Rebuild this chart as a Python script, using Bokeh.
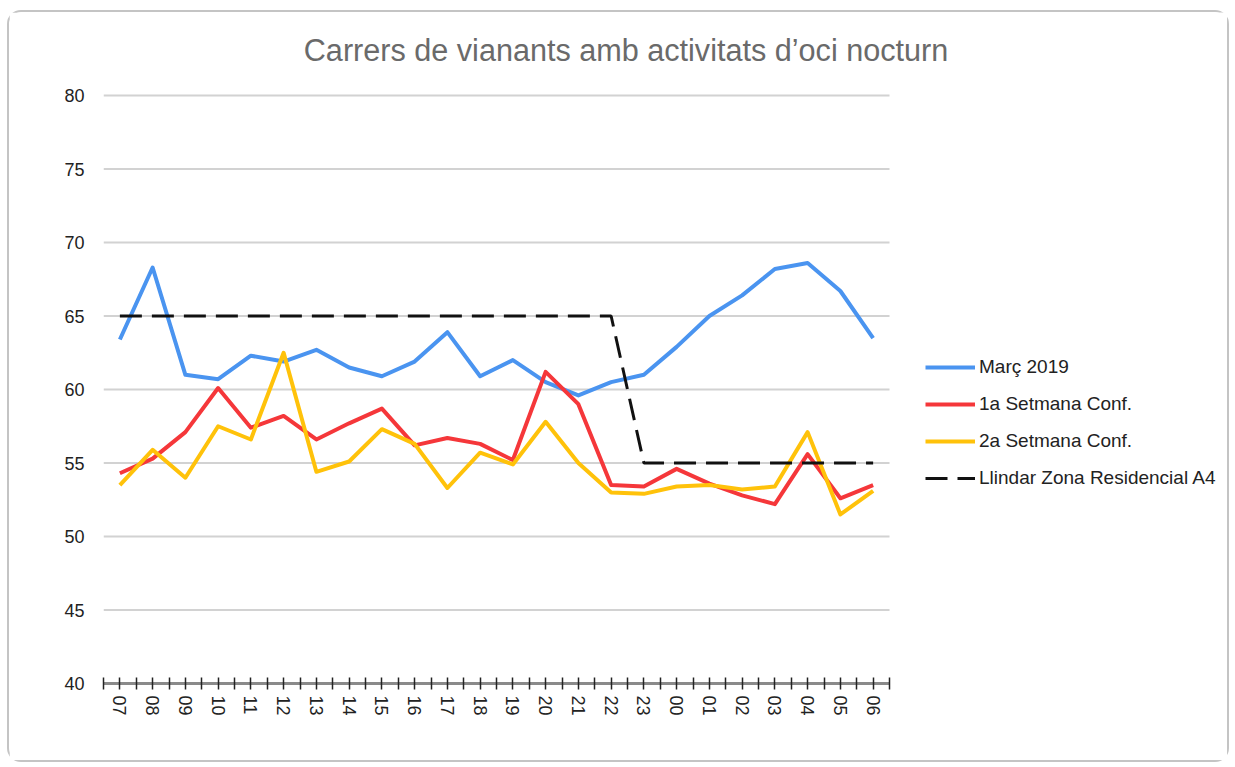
from bokeh.plotting import figure
from bokeh.models import Range1d, FixedTicker, Legend, LegendItem, Label
from bokeh.embed import file_html
from bokeh.resources import INLINE

hours = ["07", "08", "09", "10", "11", "12", "13", "14", "15", "16", "17", "18",
         "19", "20", "21", "22", "23", "00", "01", "02", "03", "04", "05", "06"]
marc_2019 = [63.4, 68.3, 61.0, 60.7, 62.3, 61.9, 62.7, 61.5, 60.9, 61.9, 63.9, 60.9,
             62.0, 60.5, 59.6, 60.5, 61.0, 62.9, 65.0, 66.4, 68.2, 68.6, 66.7, 63.5]
setmana_1 = [54.3, 55.3, 57.1, 60.1, 57.4, 58.2, 56.6, 57.7, 58.7, 56.2, 56.7, 56.3,
             55.2, 61.2, 59.0, 53.5, 53.4, 54.6, 53.6, 52.8, 52.2, 55.6, 52.6, 53.5]
setmana_2 = [53.5, 55.9, 54.0, 57.5, 56.6, 62.5, 54.4, 55.1, 57.3, 56.3, 53.3, 55.7,
             54.9, 57.8, 55.0, 53.0, 52.9, 53.4, 53.5, 53.2, 53.4, 57.1, 51.5, 53.1]
llindar = [65, 65, 65, 65, 65, 65, 65, 65, 65, 65, 65, 65,
           65, 65, 65, 65, 55, 55, 55, 55, 55, 55, 55, 55]
y_ticks = [40, 45, 50, 55, 60, 65, 70, 75, 80]
title_text = "Carrers de vianants amb activitats d\u2019oci nocturn"
series_names = ["Mar\u00e7 2019", "1a Setmana Conf.", "2a Setmana Conf.",
                "Llindar Zona Residencial A4"]

xs = list(range(len(hours)))
FONT = "Liberation Sans"

# The frame fills the canvas right of the y labels and above the x labels;
# the data occupy its lower-left part, title and legend sit in the rest.
W, H = 1222, 752
LEFT, BOTTOM = 94, 81
cat_px = 32.75          # pixels per hour category
unit_px = 14.7          # pixels per dB
x_lo = -0.5
x_hi = x_lo + (W - LEFT) / cat_px
y_lo = 40
y_hi = y_lo + (H - BOTTOM) / unit_px

p = figure(width=W, height=H, output_backend="svg", toolbar_location=None,
           x_range=Range1d(x_lo, x_hi), y_range=Range1d(y_lo, y_hi),
           min_border_left=LEFT, min_border_right=0, min_border_top=0,
           min_border_bottom=BOTTOM)
p.styles = {"border": "2px solid #c4c4c4", "border-radius": "14px",
            "margin-left": "7px", "margin-top": "10px"}
p.outline_line_color = None
p.background_fill_color = "white"
p.border_fill_color = "white"

title = Label(x=x_lo + (616.5 - LEFT) / cat_px, y=y_lo + (H - BOTTOM - 37) / unit_px,
              text=title_text, text_align="center", text_baseline="middle",
              text_font=FONT, text_font_size="30.6px", text_color="#6a6a6a")
p.add_layout(title)

# y axis
p.yaxis.ticker = FixedTicker(ticks=y_ticks)
p.yaxis.axis_line_color = None
p.yaxis.major_tick_line_color = None
p.yaxis.minor_tick_line_color = None
p.yaxis.major_label_standoff = 13
p.yaxis.major_label_text_font = FONT
p.yaxis.major_label_text_font_size = "18px"
p.yaxis.major_label_text_color = "#222222"

# x axis
p.xaxis.ticker = FixedTicker(ticks=xs, minor_ticks=[i - 0.5 for i in range(len(hours) + 1)])
p.xaxis.bounds = (-0.5, len(hours) - 0.5)
p.xaxis.major_label_overrides = {i: h for i, h in enumerate(hours)}
p.xaxis.major_label_orientation = "vertical"
p.xaxis.major_label_text_font = FONT
p.xaxis.major_label_text_font_size = "18px"
p.xaxis.major_label_text_color = "#222222"
p.xaxis.major_label_standoff = 6
p.xaxis.axis_line_color = "#8a8a8a"
p.xaxis.axis_line_width = 3
p.xaxis.major_tick_line_color = "#222222"
p.xaxis.minor_tick_line_color = "#222222"
p.xaxis.major_tick_line_width = 1.5
p.xaxis.minor_tick_line_width = 1.5
p.xaxis.major_tick_in = 6
p.xaxis.major_tick_out = 6
p.xaxis.minor_tick_in = 6
p.xaxis.minor_tick_out = 6

p.xgrid.grid_line_color = None
p.ygrid.grid_line_color = None

# horizontal grid lines spanning the hour categories only
grid_y = y_ticks[1:]
p.segment(x0=[-0.5] * len(grid_y), x1=[len(hours) - 0.5] * len(grid_y),
          y0=grid_y, y1=grid_y, line_color="#d2d2d2", line_width=2)

r1 = p.line(xs, marc_2019, line_color="#4a94f0", line_width=4, line_join="round")
r2 = p.line(xs, setmana_1, line_color="#f5373a", line_width=4, line_join="round")
r3 = p.line(xs, setmana_2, line_color="#ffc20a", line_width=4, line_join="round")
r4 = p.line(xs, llindar, line_color="#111111", line_width=3, line_dash="22 10")

legend = Legend(items=[LegendItem(label=series_names[0], renderers=[r1]),
                       LegendItem(label=series_names[1], renderers=[r2]),
                       LegendItem(label=series_names[2], renderers=[r3]),
                       LegendItem(label=series_names[3], renderers=[r4])],
                location=(822, 194))
legend.border_line_color = None
legend.background_fill_alpha = 0
legend.padding = 0
legend.margin = 0
legend.spacing = 15
legend.glyph_width = 50
legend.glyph_height = 22
legend.label_height = 22
legend.label_standoff = 4
legend.label_text_font = FONT
legend.label_text_font_size = "19px"
legend.label_text_color = "#222222"
p.add_layout(legend, "center")

open("out.html", "w").write(file_html(p, INLINE))
